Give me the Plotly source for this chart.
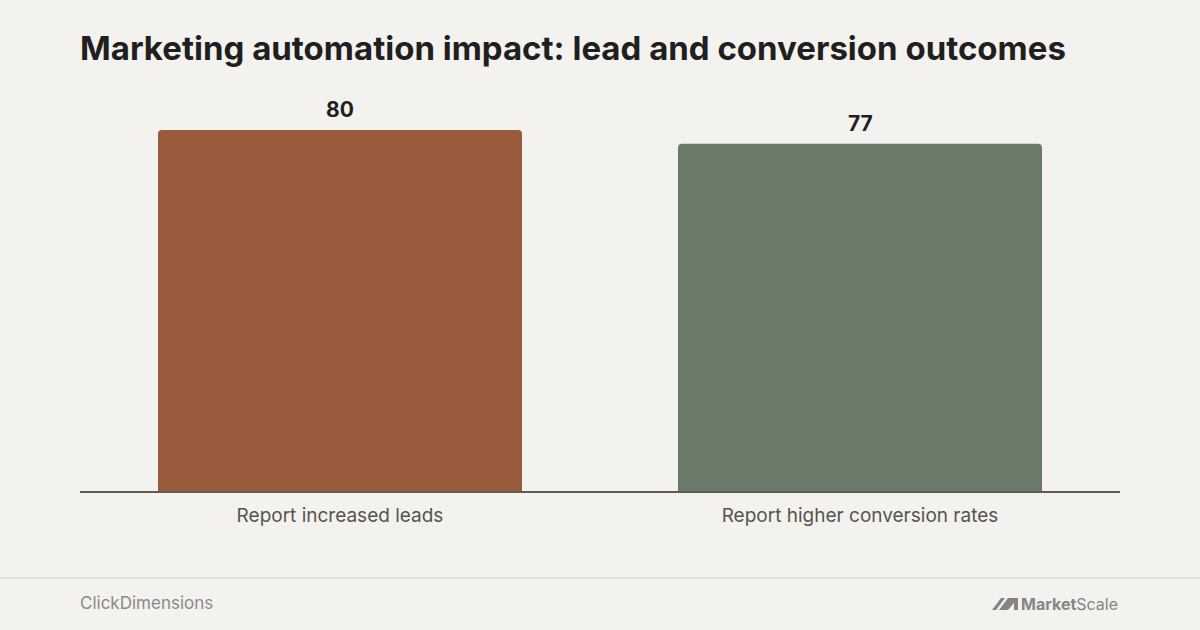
import plotly.graph_objects as go

categories = ["Report increased leads", "Report higher conversion rates"]
values = [80, 77]
bar_colors = ["#9A5A3C", "#6A7B69"]

title = "Marketing automation impact: lead and conversion outcomes"
source = "ClickDimensions"

W, H = 1200, 630
L, R, T, B = 80, 80, 94, 139
pw, ph = W - L - R, H - T - B


def px(x):
    return (x - L) / pw


def py(y):
    return (H - B - y) / ph


fig = go.Figure()
fig.add_trace(go.Bar(
    x=categories, y=values,
    marker=dict(color=bar_colors, line=dict(width=0), cornerradius=4),
    hoverinfo="skip", width=0.7,
))

# value labels above bars
for c, v in zip(categories, values):
    fig.add_annotation(x=c, y=v, text=f"<b>{v}</b>", showarrow=False,
                       yanchor="bottom", yshift=6,
                       font=dict(family="Inter", size=21, color="#1f1f1f"))

# footer rule
fig.add_shape(type="line", xref="paper", yref="paper",
              x0=px(0), x1=px(W), y0=py(578), y1=py(578),
              line=dict(color="#E3E1DC", width=2))

# MarketScale mark
fig.add_shape(type="path", xref="paper", yref="paper",
              path=(f"M {px(992)},{py(610)} L {px(1001)},{py(598)} L {px(1005)},{py(598)} "
                    f"L {px(996)},{py(610)} Z "
                    f"M {px(999)},{py(610)} L {px(1008)},{py(598)} L {px(1018)},{py(598)} "
                    f"L {px(1018)},{py(610)} L {px(1014)},{py(610)} L {px(1014)},{py(603)} "
                    f"L {px(1008)},{py(610)} Z"),
              fillcolor="#858585", line=dict(width=0))

fig.add_annotation(text=f"<b>{title}</b>", xref="paper", yref="paper",
                   x=px(78), y=py(48), xanchor="left", yanchor="middle", showarrow=False,
                   font=dict(family="Inter", size=33, color="#1f1f1f"))
fig.add_annotation(text=source, xref="paper", yref="paper",
                   x=px(78), y=py(603), xanchor="left", yanchor="middle", showarrow=False,
                   font=dict(family="Inter", size=17, color="#8a8a8a"))
fig.add_annotation(text="<b>Market</b>Scale", xref="paper", yref="paper",
                   x=px(1120), y=py(604), xanchor="right", yanchor="middle", showarrow=False,
                   font=dict(family="Inter", size=16, color="#858585"))

fig.update_layout(
    width=W, height=H,
    margin=dict(l=L, r=R, t=T, b=B),
    paper_bgcolor="#F3F2EE", plot_bgcolor="#F3F2EE",
    showlegend=False, bargap=0.3,
    xaxis=dict(showline=True, linecolor="#5f5a55", linewidth=1.5, ticks="",
               ticklabelstandoff=6,
               tickfont=dict(family="Inter", size=19, color="#555550"), showgrid=False),
    yaxis=dict(range=[0, 88], visible=False, showgrid=False),
)

fig.write_html("out.html", config={"displayModeBar": False},
               post_script="document.body.style.margin='0';")
